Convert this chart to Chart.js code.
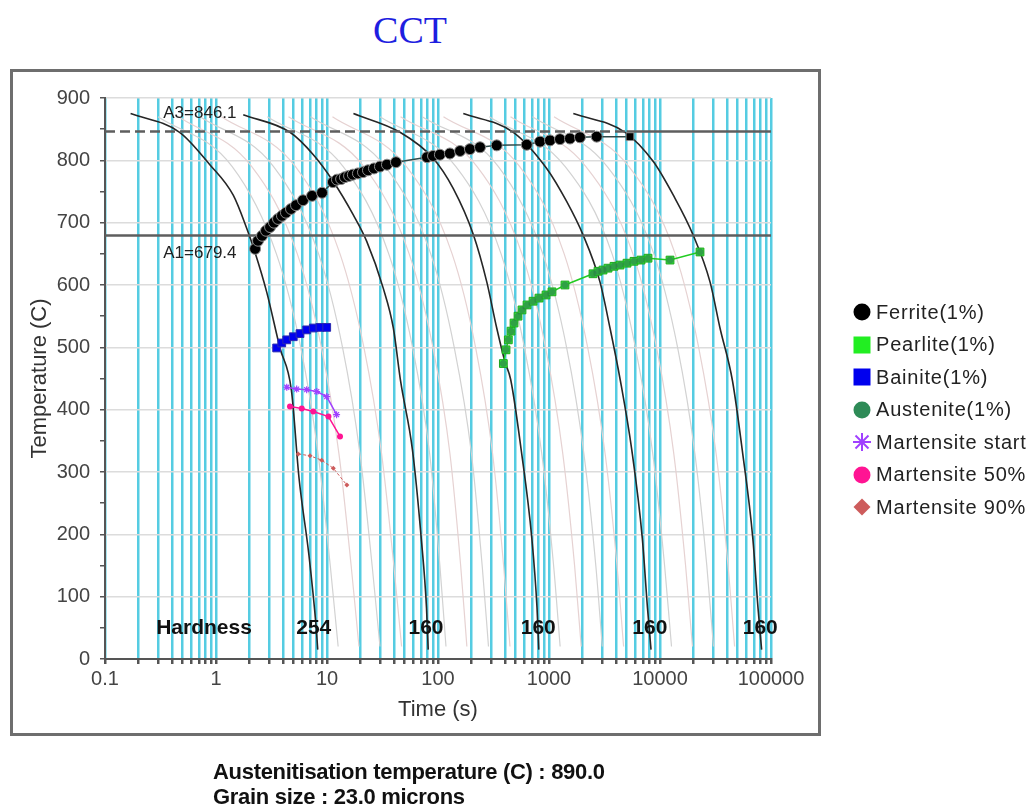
<!DOCTYPE html>
<html>
<head>
<meta charset="utf-8">
<title>CCT</title>
<script src="https://cdn.jsdelivr.net/npm/chart.js@4.4.1/dist/chart.umd.min.js"></script>
<style>
  body { margin: 0; background: #fff; }
  #page { position: relative; width: 1029px; height: 808px; overflow: hidden; font-family: Arial, "Liberation Sans", sans-serif; }
  #frame { position: absolute; left: 10px; top: 69px; width: 811px; height: 667px; box-sizing: border-box; border: 3px solid #6e6e6e; }
  #title { position: absolute; left: 0; top: 10px; width: 820px; text-align: center; font: 38px/40px "Liberation Serif", "Times New Roman", serif; color: #1e1ee0; }
  #cct { position: absolute; left: 0; top: 0; }
  #legend { position: absolute; left: 851px; top: 296px; }
  .item { display: flex; align-items: center; height: 32.5px; font-size: 20px; letter-spacing: 0.8px; color: #222; white-space: nowrap; }
  .item svg { width: 22px; height: 22px; margin-right: 3px; flex: none; }
  #info { position: absolute; left: 213px; top: 759px; font: bold 22px/25px Arial, "Liberation Sans", sans-serif; letter-spacing: -0.3px; color: #111; }
</style>
</head>
<body>
<div id="page">
  <div id="frame"></div>
  <div id="title">CCT</div>
  <canvas id="cct" width="1029" height="808"></canvas>
  <div id="legend">
    <div class="item"><svg viewBox="0 0 22 22"><circle cx="11" cy="11" r="8.5" fill="#000"/></svg>Ferrite(1%)</div>
    <div class="item"><svg viewBox="0 0 22 22"><rect x="2.5" y="2.5" width="17" height="17" fill="#22ee22"/></svg>Pearlite(1%)</div>
    <div class="item"><svg viewBox="0 0 22 22"><rect x="2.5" y="2.5" width="17" height="17" fill="#0000ee"/></svg>Bainite(1%)</div>
    <div class="item"><svg viewBox="0 0 22 22"><circle cx="11" cy="11" r="8.5" fill="#2e8b57"/></svg>Austenite(1%)</div>
    <div class="item"><svg viewBox="0 0 22 22" stroke="#a040ff" stroke-width="2"><line x1="2" y1="11" x2="20" y2="11"/><line x1="11" y1="2" x2="11" y2="20"/><line x1="4.5" y1="4.5" x2="17.5" y2="17.5"/><line x1="17.5" y1="4.5" x2="4.5" y2="17.5"/></svg>Martensite start</div>
    <div class="item"><svg viewBox="0 0 22 22"><circle cx="11" cy="11" r="8.5" fill="#ff1493"/></svg>Martensite 50%</div>
    <div class="item"><svg viewBox="0 0 22 22"><polygon points="11,2.5 19.5,11 11,19.5 2.5,11" fill="#cd5c5c"/></svg>Martensite 90%</div>
  </div>
  <div id="info">Austenitisation temperature (C) : 890.0<br>Grain size : 23.0 microns</div>
</div>
<script>
// axes
const xDecades = [0.1, 1, 10, 100, 1000, 10000, 100000];
const xTickLabels = ['0.1', '1', '10', '100', '1000', '10000', '100000'];
const yMin = 0, yMax = 900;

// critical temperatures
const a3Temp = 846.1;
const a1Temp = 679.4;

// the five main cooling curves (time s, temperature C)
const cool1Time = [0.17, 0.47, 0.88, 1.43, 1.89, 2.24, 2.86, 3.77, 4.78, 5.6, 6.88, 7.96, 8.25];
const cool1Temp = [875, 845, 793, 744, 691, 653, 589, 499, 431, 290, 166, 54, 15];
const cool2Time = [1.76, 4.64, 7.53, 11.4, 17.3, 22.8, 32.1, 39.6, 46, 58.9, 70.6, 78.8, 81.6];
const cool2Temp = [873, 845, 809, 766, 712, 670, 595, 531, 446, 335, 194, 82, 15];
const cool3Time = [17.3, 45.5, 90.8, 137, 208, 275, 338, 401, 452, 562, 700, 780, 809];
const cool3Temp = [875, 845, 803, 755, 681, 605, 531, 477, 448, 335, 194, 82, 15];
const cool4Time = [169, 477, 953, 1442, 2030, 2878, 3544, 4400, 5572, 6926, 7713, 8300];
const cool4Temp = [875, 845, 787, 734, 680, 605, 531, 446, 335, 194, 82, 15];
const cool5Time = [1656, 4842, 8700, 13180, 19900, 28220, 34710, 45000, 55090, 68550, 76380, 82300];
const cool5Temp = [875, 845, 798, 744, 680, 605, 531, 446, 335, 194, 82, 15];

// faint cooling curves in between, times read at these temperatures
const grayTemp = [870, 790, 650, 500, 330, 150, 20];
const grayTimes = [
  [0.3, 1.4, 3.5, 5.8, 8.3, 10.7, 12.6],
  [0.46, 2.1, 5.4, 8.9, 12.8, 16.5, 19.4],
  [0.72, 3.3, 8.4, 13.8, 19.8, 25.5, 30],
  [1.12, 5.2, 13.1, 21.5, 31, 40, 47],
  [2.9, 14, 36, 59, 84, 104, 118],
  [4.5, 21.5, 55, 90, 128, 160, 182],
  [7.1, 33.5, 86, 140, 200, 250, 285],
  [11.2, 52, 134, 218, 310, 390, 445],
  [30, 145, 370, 600, 860, 1100, 1260],
  [46, 225, 570, 930, 1330, 1700, 1950],
  [72, 350, 880, 1440, 2060, 2640, 3020],
  [112, 545, 1370, 2230, 3200, 4100, 4700],
  [290, 1400, 3700, 6000, 8600, 11000, 12700],
  [450, 2150, 5700, 9300, 13300, 17000, 19600],
  [710, 3350, 8800, 14400, 20600, 26400, 30300],
  [1110, 5250, 13700, 22300, 32000, 41000, 47000]
];

// transformation start points
const ferriteTime = [2.25, 2.39, 2.6, 2.82, 3.07, 3.33, 3.62, 3.93, 4.27, 4.74, 5.26, 6.08, 7.33, 9.02,
  11.3, 12.3, 13.4, 14.5, 15.8, 17.1, 19, 21.1, 23.4, 26.5, 30, 34.7, 41.8, 79.6,
  90.2, 104, 128, 158, 194, 239, 338, 630, 830, 1021, 1256, 1545, 1901, 2690, 5365];
const ferriteTemp = [658, 671, 679, 687, 693, 700, 706, 711, 716, 722, 728, 736, 743, 748,
  765, 769, 770, 773, 775, 777, 779, 781, 784, 787, 790, 793, 797, 805,
  807, 809, 811, 815, 818, 821, 824, 825, 830, 832, 834, 835, 837, 838, 838];
const pearliteTime = [388, 410, 430, 455, 484, 526, 571, 634, 718, 813, 940, 1064, 1393,
  2491, 2763, 3066, 3401, 3852, 4362, 5044, 5832, 6744, 7799, 12310, 22930];
const pearliteTemp = [474, 496, 512, 526, 539, 550, 560, 568, 574, 579, 584, 589, 600,
  618, 622, 624, 627, 630, 632, 635, 638, 640, 643, 640, 653];
const bainiteTime = [3.52, 3.91, 4.34, 4.97, 5.71, 6.56, 7.53, 8.65, 9.94];
const bainiteTemp = [499, 507, 512, 517, 522, 528, 531, 532, 532];
const msTime = [4.34, 5.33, 6.56, 8.08, 9.94, 12.2];
const msTemp = [436, 433, 432, 429, 421, 392];
const m50Time = [4.64, 5.92, 7.53, 10.3, 13.1];
const m50Temp = [405, 402, 397, 389, 357];
const m90Time = [5.51, 7.03, 8.96, 11.4, 15.1];
const m90Temp = [329, 326, 319, 306, 279];

// hardness written at the end of each main cooling curve
const hardness = ['254', '160', '160', '160', '160'];
const hardnessTime = [7.6, 78, 800, 8100, 80000];
const hardnessTemp = 50;
const hardnessWordTime = 0.78;
const critLabelTime = 0.335;

const pts = (xs, ys) => xs.map((x, i) => ({x: x, y: ys[i]}));

// every 1..9 multiple of each decade gets a cyan grid line
const xGrid = [];
xDecades.forEach(d => {
  for (let m = 1; m <= 9; m++) {
    if (d * m <= 100000) xGrid.push(m === 1 ? d : d * m);
  }
});

const datasets = [];

datasets.push({
  data: pts(ferriteTime, ferriteTemp), borderColor: '#2f4a4a', borderWidth: 1.5,
  pointRadius: 5.5, pointBackgroundColor: '#000', pointBorderColor: '#8a8a8a', pointBorderWidth: 1,
  pointStyle: ferriteTime.map((t, i) => i === ferriteTime.length - 1 ? 'rect' : 'circle')
});
// austenite(1%) markers sit on top of the pearlite ones
datasets.push({
  data: pts(pearliteTime, pearliteTemp), showLine: false,
  pointRadius: 3.5, pointBackgroundColor: 'rgba(46,120,80,0.65)', pointBorderWidth: 0
});
datasets.push({
  data: pts(pearliteTime, pearliteTemp), borderColor: '#22cc22', borderWidth: 1.5,
  pointStyle: 'rect', pointRadius: 5.5, pointBackgroundColor: '#33ee33', pointBorderColor: '#1fa51f', pointBorderWidth: 1
});
datasets.push({
  data: pts(bainiteTime, bainiteTemp), borderColor: '#0000ee', borderWidth: 1.5,
  pointStyle: 'rect', pointRadius: 5.5, pointBackgroundColor: '#0000ee', pointBorderColor: '#2a2ab0', pointBorderWidth: 1
});
datasets.push({
  data: pts(msTime, msTemp), borderColor: '#a040ff', borderWidth: 1.5,
  pointStyle: 'star', pointRadius: 3.5, pointBorderColor: '#a040ff', pointBorderWidth: 1.2
});
datasets.push({
  data: pts(m50Time, m50Temp), borderColor: '#ff1493', borderWidth: 1.5,
  pointRadius: 3, pointBackgroundColor: '#ff1493', pointBorderWidth: 0
});
datasets.push({
  data: pts(m90Time, m90Temp), borderColor: '#cd5c5c', borderWidth: 1, borderDash: [3, 2],
  pointStyle: 'rectRot', pointRadius: 2.5, pointBackgroundColor: '#cd5c5c', pointBorderWidth: 0
});

// A3 and A1 lines
datasets.push({
  data: [{x: 0.1, y: a3Temp}, {x: 5000, y: a3Temp}, {x: 100000, y: a3Temp}],
  borderColor: '#5e5e5e', borderWidth: 2.5, pointRadius: 0,
  segment: {borderDash: ctx => ctx.p0DataIndex === 0 ? [10, 5] : undefined}
});
datasets.push({
  data: [{x: 0.1, y: a1Temp}, {x: 100000, y: a1Temp}],
  borderColor: '#5e5e5e', borderWidth: 2.5, pointRadius: 0
});

[[cool1Time, cool1Temp], [cool2Time, cool2Temp], [cool3Time, cool3Temp], [cool4Time, cool4Temp], [cool5Time, cool5Temp]]
  .forEach(c => datasets.push({
    data: pts(c[0], c[1]), borderColor: '#262626', borderWidth: 1.6, pointRadius: 0,
    cubicInterpolationMode: 'monotone'
  }));

grayTimes.forEach((g, i) => datasets.push({
  data: pts(g, grayTemp), borderColor: i % 2 ? '#e6d2d2' : '#d2d2d2', borderWidth: 1.2, pointRadius: 0,
  cubicInterpolationMode: 'monotone'
}));

const labelPlugin = {
  id: 'cctLabels',
  afterDraw(chart) {
    const {ctx, scales: {x, y}} = chart;
    ctx.save();
    ctx.fillStyle = '#222';
    ctx.textBaseline = 'middle';
    ctx.textAlign = 'left';
    ctx.font = '17px Arial, "Liberation Sans", sans-serif';
    ctx.fillText('A3=' + a3Temp, x.getPixelForValue(critLabelTime), y.getPixelForValue(a3Temp) - 18);
    ctx.fillText('A1=' + a1Temp, x.getPixelForValue(critLabelTime), y.getPixelForValue(a1Temp) + 18);
    ctx.font = 'bold 21px Arial, "Liberation Sans", sans-serif';
    ctx.fillStyle = '#111';
    ctx.textAlign = 'center';
    const hy = y.getPixelForValue(hardnessTemp);
    ctx.fillText('Hardness', x.getPixelForValue(hardnessWordTime), hy);
    hardness.forEach((h, i) => ctx.fillText(h, x.getPixelForValue(hardnessTime[i]), hy));
    ctx.restore();
  }
};

Chart.defaults.font.family = 'Arial, "Liberation Sans", sans-serif';

new Chart(document.getElementById('cct'), {
  type: 'line',
  data: {datasets: datasets},
  options: {
    responsive: false,
    animation: false,
    layout: {padding: {left: 0, top: 98, right: 258, bottom: 0}},
    elements: {line: {tension: 0}},
    plugins: {legend: {display: false}, tooltip: {enabled: false}},
    scales: {
      x: {
        type: 'logarithmic', min: 0.1, max: 100000,
        afterFit: s => { s.height = 149; },
        afterBuildTicks: s => { s.ticks = xGrid.map(v => ({value: v})); },
        ticks: {
          autoSkip: false, maxRotation: 0, padding: 3, color: '#444', font: {size: 20},
          callback: v => { const i = xDecades.indexOf(v); return i < 0 ? '' : xTickLabels[i]; }
        },
        grid: {color: 'rgb(85,204,226)', lineWidth: 2.5, tickColor: '#555', tickLength: 5},
        border: {color: '#555', width: 2},
        title: {display: true, text: 'Time (s)', color: '#333', font: {size: 22}, padding: {bottom: 85}}
      },
      y: {
        min: yMin, max: yMax,
        afterFit: s => { s.width = 105; },
        ticks: {
          stepSize: 50, padding: 10, color: '#444', font: {size: 20},
          callback: v => v % 100 === 0 ? v : ''
        },
        grid: {
          color: c => c.tick && c.tick.value % 100 === 0 ? '#dcdcdc' : 'rgba(0,0,0,0)',
          lineWidth: 1.5, tickColor: '#555', tickLength: 5
        },
        border: {color: '#555', width: 2},
        title: {display: true, text: 'Temperature (C)', color: '#333', font: {size: 22}, padding: {top: 27}}
      }
    }
  },
  plugins: [labelPlugin]
});
</script>
</body>
</html>
